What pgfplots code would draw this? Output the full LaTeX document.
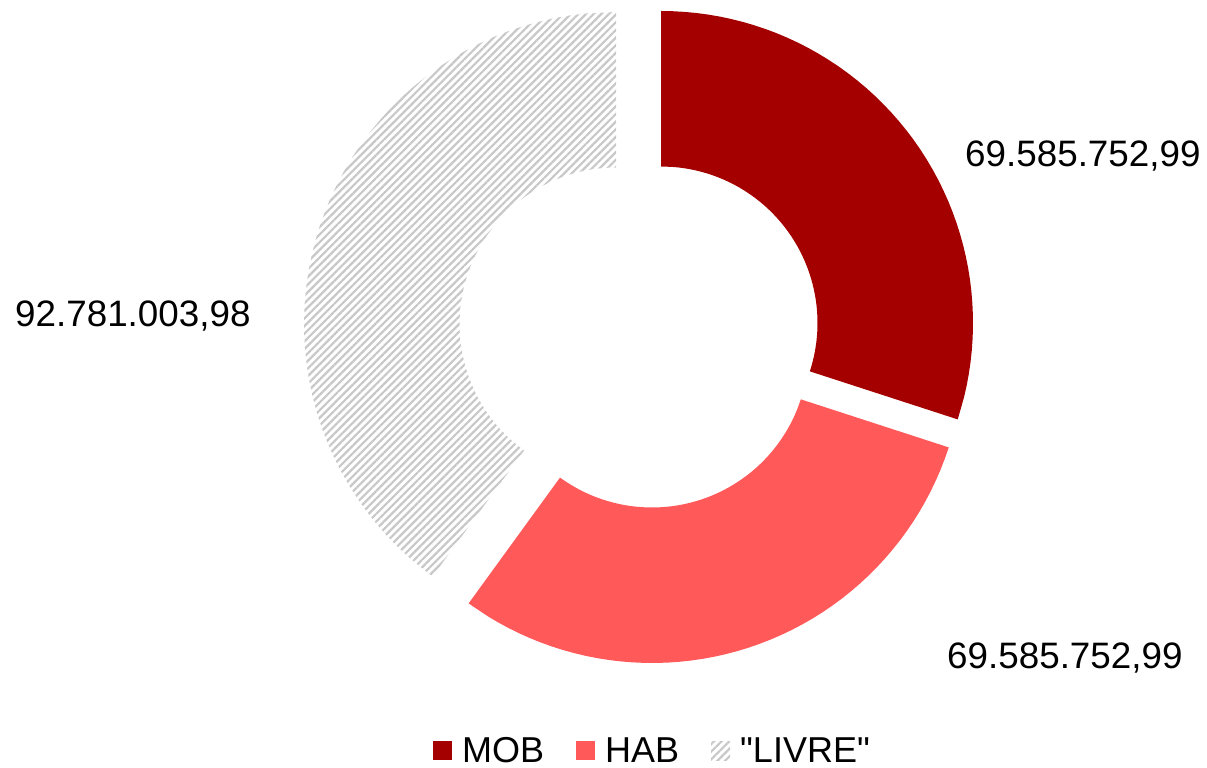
\documentclass[border=0pt]{standalone}
\usepackage{fontspec}
\setmainfont{Liberation Sans}[Ligatures=TeXOff]
\usepackage{pgfplots}
\pgfplotsset{compat=1.18}
\usepackage{pgfplotstable}
\usetikzlibrary{patterns.meta}
\definecolor{mob}{RGB}{165,0,0}
\definecolor{hab}{RGB}{255,89,89}
\definecolor{hatch}{RGB}{200,200,200}

% values of the three segments
\pgfplotstableread{
name value
MOB 69585752.99
HAB 69585752.99
LIVRE 92781003.98
}\piedata
\pgfplotstablegetelem{0}{value}\of\piedata\let\vA\pgfplotsretval
\pgfplotstablegetelem{1}{value}\of\piedata\let\vB\pgfplotsretval
\pgfplotstablegetelem{2}{value}\of\piedata\let\vC\pgfplotsretval
\pgfkeys{/pgf/fpu=true,/pgf/fpu/output format=fixed}
\pgfmathsetmacro\aA{90-360*\vA/(\vA+\vB+\vC)}
\pgfmathsetmacro\aB{\aA-360*\vB/(\vA+\vB+\vC)}
\pgfkeys{/pgf/fpu=false}

\def\Rout{312}
\def\Rin{156.5}
% #1 style, #2 cx, #3 cy, #4 start angle, #5 end angle
\newcommand\donutwedge[5]{%
\addplot[#1, draw=none, variable=\t,
  samples at={0,0.02,...,0.98,1,2,2.02,...,2.98,3}]
  ({#2 + ifthenelse(\t<1.5,\Rout,\Rin)*cos(ifthenelse(\t<1.5,(#4)+((#5)-(#4))*\t,(#5)+((#4)-(#5))*(\t-2)))},
   {#3 + ifthenelse(\t<1.5,\Rout,\Rin)*sin(ifthenelse(\t<1.5,(#4)+((#5)-(#4))*\t,(#5)+((#4)-(#5))*(\t-2)))});
}

\begin{document}
\begin{tikzpicture}[font=\fontsize{36bp}{43bp}\selectfont]
\begin{axis}[
  width=1207bp, height=768bp, scale only axis,
  xmin=0, xmax=1207, ymin=0, ymax=768,
  hide axis, clip=false,
  legend columns=3,
  legend image code/.code={\fill[#1] (0bp,-9.5bp) rectangle (19bp,9.5bp);},
  legend style={at={(axis cs:651.5,17)}, anchor=center, draw=none, fill=none,
    inner sep=0pt, outer sep=0pt,
    font=\fontsize{36bp}{43bp}\selectfont,
    nodes={inner sep=0pt},
    /tikz/every odd column/.style={column sep=10bp},
    /tikz/every even column/.style={column sep=32bp}},
]
\donutwedge{fill=mob}{661}{445}{90}{\aA}
\addlegendentry{MOB}
\donutwedge{fill=hab}{652}{417}{\aA}{\aB}
\addlegendentry{HAB}
\donutwedge{pattern={Lines[angle=45,distance=5.4bp,line width=2.2bp]}, pattern color=hatch}{616}{444}{\aB}{-270}
\addlegendentry{"LIVRE"}
\begin{scope}[every node/.style={anchor=base west, inner sep=0pt, font=\fontsize{36.8bp}{44bp}\selectfont}]
\node at (axis cs:965,601) {69.585.752,99};
\node at (axis cs:947,99) {69.585.752,99};
\node at (axis cs:15,441) {92.781.003,98};
\end{scope}
\end{axis}
\pgfresetboundingbox
\useasboundingbox (current axis.south west) rectangle (current axis.north east);
\end{tikzpicture}
\end{document}
